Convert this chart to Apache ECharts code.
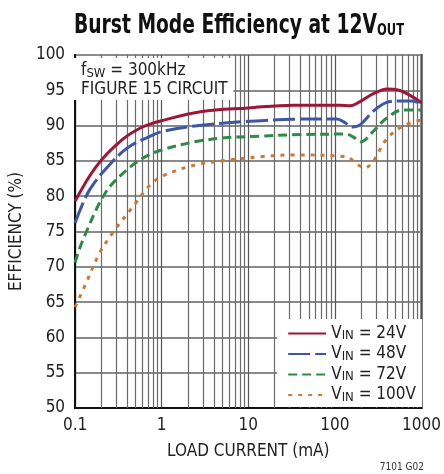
<!DOCTYPE html>
<html lang="en">
<head>
    <meta charset="UTF-8">
    <title>Burst Mode Efficiency</title>
    <script type="text/javascript" src="https://cdn.jsdelivr.net/npm/echarts@6/dist/echarts.min.js"></script>
    <style>
        html, body { margin: 0; padding: 0; background: #fff; }
        #chart { width: 444px; height: 474px; }
    </style>
</head>
<body>
<div id="chart"></div>
<script type="text/javascript">
    var FONT = "'Liberation Sans Narrow', 'DejaVu Sans Condensed', 'Arial Narrow', sans-serif";

    // values (load current in mA, efficiency in %)
    var load24 = [0.1, 0.175, 0.35, 0.6, 1, 2.9, 10, 33, 114, 150, 195, 275, 400, 550, 780, 1000];
    var eff24 = [79.3, 84.2, 88.0, 89.8, 90.7, 92.0, 92.5, 92.9, 92.9, 92.8, 93.4, 94.5, 95.2, 95.0, 94.1, 93.2];

    var load48 = [0.1, 0.147, 0.27, 0.42, 0.71, 1, 2.4, 5.8, 14, 33, 105, 135, 162, 195, 275, 390, 600, 780, 1000];
    var eff48 = [76.2, 80.9, 84.9, 87.0, 88.4, 89.15, 89.95, 90.4, 90.7, 90.9, 90.95, 90.3, 89.8, 90.1, 92.0, 93.25, 93.5, 93.5, 93.1];

    var load72 = [0.1, 0.123, 0.227, 0.42, 0.65, 1, 2.4, 5.8, 14, 33, 135, 162, 200, 275, 390, 600, 1000];
    var eff72 = [70.6, 73.8, 80.6, 84.0, 85.6, 86.55, 87.7, 88.3, 88.5, 88.7, 88.8, 88.4, 87.7, 89.15, 91.0, 92.2, 92.2];

    var load100 = [0.1, 0.134, 0.191, 0.271, 0.5, 0.71, 1, 2.4, 5.8, 14, 33, 135, 177, 220, 275, 390, 600, 1000];
    var eff100 = [64.3, 67.7, 71.9, 74.8, 79.0, 81.4, 82.8, 84.4, 85.1, 85.6, 85.85, 85.6, 84.6, 84.0, 84.9, 88.0, 89.9, 90.8];

    var seriesNames = ['VIN = 24V', 'VIN = 48V', 'VIN = 72V', 'VIN = 100V'];
    var colors = ['#9e1538', '#3d57a6', '#2e8a48', '#c77b34'];
    var dashes = ['solid', [22, 5], [9, 5], [4, 6]];

    // log grid lines between the decades
    var minorX = [0.2, 0.3, 0.4, 0.5, 0.6, 0.7, 0.8, 0.9,
        2, 3, 4, 5, 6, 7, 8, 9,
        20, 30, 40, 50, 60, 70, 80, 90,
        200, 300, 400, 500, 600, 700, 800, 900];

    function pairs(xs, ys) {
        var out = [];
        for (var i = 0; i < xs.length; i++) out.push([xs[i], ys[i]]);
        return out;
    }

    var allData = [pairs(load24, eff24), pairs(load48, eff48), pairs(load72, eff72), pairs(load100, eff100)];

    var series = [];
    for (var i = 0; i < 4; i++) {
        series.push({
            name: seriesNames[i],
            type: 'line',
            data: allData[i],
            smooth: 0.35,
            showSymbol: false,
            symbol: 'none',
            z: 3,
            lineStyle: {color: colors[i], width: 3, type: dashes[i]},
            itemStyle: {color: colors[i]}
        });
    }
    series.push({
        type: 'line',
        data: [],
        silent: true,
        markLine: {
            z: 1,
            silent: true,
            symbol: ['none', 'none'],
            label: {show: false},
            lineStyle: {color: '#6a6a6a', width: 1.2, type: 'solid'},
            emphasis: {disabled: true},
            data: minorX.map(function (v) { return {xAxis: v}; })
        }
    });

    var chart = echarts.init(document.getElementById('chart'));
    var option = {
        backgroundColor: '#fff',
        animation: false,
        title: [{
            text: '{a|f}{b|SW}{a| = 300kHz}\n{a|FIGURE 15 CIRCUIT}',
            left: 74,
            top: 57,
            backgroundColor: '#fff',
            padding: [4, 6, 2, 7],
            textStyle: {
                fontWeight: 'normal',
                rich: {
                    a: {fontFamily: FONT, fontWeight: 'normal', fontSize: 17, color: '#222', lineHeight: 19},
                    b: {fontFamily: FONT, fontWeight: 'normal', fontSize: 13, color: '#222', lineHeight: 8, verticalAlign: 'bottom'}
                }
            }
        }],
        legend: {
            orient: 'vertical',
            right: 22,
            bottom: 67,
            backgroundColor: '#fff',
            padding: [6, 6, 3, 10],
            itemWidth: 38,
            itemHeight: 4,
            itemGap: 3,
            itemStyle: {opacity: 0},
            data: seriesNames,
            formatter: function (name) {
                return '{v|V}{s|IN}{v|' + name.replace('VIN', '') + '}';
            },
            textStyle: {
                rich: {
                    v: {fontFamily: FONT, fontSize: 17, color: '#222', lineHeight: 18},
                    s: {fontFamily: FONT, fontSize: 13, color: '#222', lineHeight: 6, verticalAlign: 'bottom'}
                }
            }
        },
        grid: {
            left: 72, right: 21, top: 55, bottom: 66,
            show: true,
            borderColor: '#111',
            borderWidth: 2,
            backgroundColor: 'transparent'
        },
        xAxis: {
            type: 'log',
            logBase: 10,
            min: 0.1,
            max: 1000,
            name: 'LOAD CURRENT (mA)',
            nameLocation: 'middle',
            nameGap: 35,
            nameTextStyle: {fontFamily: FONT, fontSize: 17, color: '#222'},
            axisLine: {show: true, lineStyle: {color: '#111', width: 2}},
            axisTick: {show: false},
            axisLabel: {
                fontFamily: FONT, fontSize: 17, color: '#222', margin: 9,
                formatter: function (v) { return String(v); }
            },
            splitLine: {show: true, lineStyle: {color: '#555', width: 1.2}}
        },
        yAxis: {
            type: 'value',
            min: 50,
            max: 100,
            interval: 5,
            name: 'EFFICIENCY (%)',
            nameLocation: 'middle',
            nameGap: 46,
            nameTextStyle: {fontFamily: FONT, fontSize: 17, color: '#222'},
            axisLine: {show: true, lineStyle: {color: '#111', width: 2}},
            axisTick: {show: false},
            axisLabel: {fontFamily: FONT, fontSize: 17, color: '#222', margin: 10},
            splitLine: {show: true, lineStyle: {color: '#8a8a8a', width: 2}}
        },
        graphic: [{
            // chart title, squeezed horizontally to match the condensed face
            type: 'text',
            x: 239,
            y: 39,
            scaleX: 0.8,
            style: {
                text: '{t|Burst Mode Efficiency at 12V}{s|OUT}',
                textAlign: 'center',
                textVerticalAlign: 'bottom',
                rich: {
                    t: {fontFamily: FONT, fontWeight: 'bold', fontSize: 26, fill: '#111', lineHeight: 26},
                    s: {fontFamily: FONT, fontWeight: 'bold', fontSize: 16, fill: '#111', lineHeight: 6, verticalAlign: 'bottom'}
                }
            }
        }, {
            type: 'text',
            right: 20,
            bottom: 2,
            style: {text: '7101 G02', fontFamily: FONT, fontSize: 10, fill: '#333'}
        }],
        series: series
    };
    chart.setOption(option);
</script>
</body>
</html>
